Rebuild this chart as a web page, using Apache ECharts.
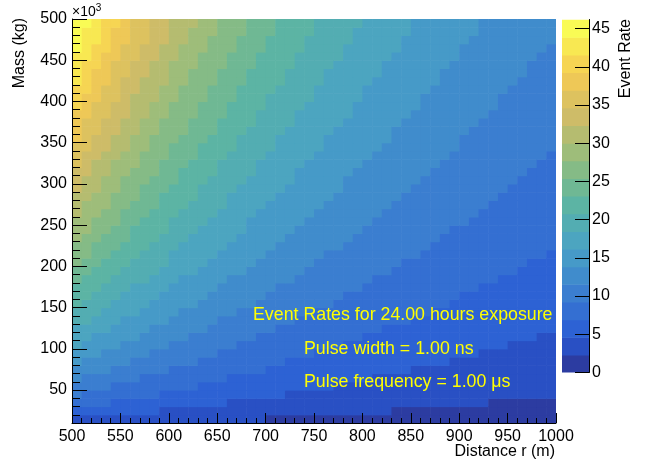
<!DOCTYPE html>
<html><head><meta charset="utf-8">
<script src="https://cdn.jsdelivr.net/npm/echarts@6/dist/echarts.min.js"></script>
<style>html,body{margin:0;padding:0;background:#fff}#c{width:657px;height:466px}</style>
</head><body><div id="c"></div>
<script>
// ---- data ----
const distanceEdges = [500,510,520,530,540,550,560,570,580,590,600,610,620,630,640,650,660,670,680,690,700,
  710,720,730,740,750,760,770,780,790,800,810,820,830,840,850,860,870,880,890,900,
  910,920,930,940,950,960,970,980,990,1000];
const massEdges = [10,20,30,40,50,60,70,80,90,100,110,120,130,140,150,160,170,180,190,200,
  210,220,230,240,250,260,270,280,290,300,310,320,330,340,350,360,370,380,390,400,
  410,420,430,440,450,460,470,480,490,500];
const zMax = 46.2;
const bandCount = 20;
// rate band per cell, one row per mass bin (bottom to top):
// [highest band in row (at r=500), run lengths of columns for that band, band-1, band-2, ...]
const rateBandRuns = [
  [1, 20,30],
  [2, 9,24,17],
  [3, 4,12,27,7],
  [4, 1,8,13,28],
  [4, 4,9,14,23],
  [5, 1,6,9,15,19],
  [5, 4,6,10,15,15],
  [6, 1,5,7,9,17,11],
  [6, 3,5,7,10,17,8],
  [7, 1,4,5,7,11,17,5],
  [7, 2,5,5,7,11,18,2],
  [7, 4,4,6,7,11,18],
  [8, 2,3,5,5,8,12,15],
  [8, 3,4,4,6,8,12,13],
  [9, 1,3,4,5,6,8,12,11],
  [9, 2,3,4,5,6,8,12,10],
  [9, 3,3,4,5,6,9,12,8],
  [10, 1,3,4,3,5,7,8,13,6],
  [10, 2,3,4,4,5,6,9,13,4],
  [11, 1,2,3,4,4,5,6,9,13,3],
  [11, 2,2,3,3,5,5,6,10,13,1],
  [11, 2,3,3,3,5,5,7,9,13],
  [12, 1,2,3,3,3,5,5,7,9,12],
  [12, 2,2,2,4,3,5,5,7,9,11],
  [12, 2,3,2,3,4,4,6,7,10,9],
  [13, 1,2,2,3,3,4,4,6,7,10,8],
  [13, 1,3,2,3,3,4,4,6,7,10,7],
  [13, 2,2,3,2,4,3,5,6,7,10,6],
  [14, 1,2,2,2,3,3,4,5,6,7,10,5],
  [14, 1,2,2,3,3,3,4,5,5,8,10,4],
  [14, 2,2,2,3,2,4,4,4,6,8,10,3],
  [15, 1,1,2,3,2,3,3,4,5,6,8,10,2],
  [15, 1,2,2,2,3,3,3,4,5,6,8,10,1],
  [15, 2,2,2,2,2,3,4,4,5,6,8,10],
  [16, 1,1,2,2,2,3,3,3,4,5,7,7,10],
  [16, 1,2,2,2,2,3,3,3,4,5,6,8,9],
  [16, 1,2,2,2,2,3,3,4,4,5,6,8,8],
  [16, 2,2,2,2,2,3,3,3,4,6,6,8,7],
  [17, 1,1,2,2,2,2,3,3,4,4,5,7,8,6],
  [17, 1,2,2,1,3,2,3,3,3,5,5,6,8,6],
  [17, 2,1,2,2,2,2,3,3,4,4,5,7,8,5],
  [18, 1,1,2,1,2,3,2,3,3,4,4,5,7,8,4],
  [18, 1,1,2,2,2,2,2,3,3,4,4,6,6,9,3],
  [18, 1,2,1,2,2,2,3,3,3,4,4,5,7,8,3],
  [18, 2,1,2,2,2,2,2,3,3,4,5,5,7,8,2],
  [19, 1,1,2,1,2,2,2,3,3,3,4,4,6,6,9,1],
  [19, 1,2,1,2,2,2,2,2,3,3,4,5,5,7,9],
  [19, 1,2,1,2,2,2,2,3,3,3,4,4,6,7,8],
  [19, 2,1,2,1,2,2,3,2,3,3,4,5,5,7,8]
];
const xTicks = [500,550,600,650,700,750,800,850,900,950,1000];
const yTicks = [50,100,150,200,250,300,350,400,450,500];
const zTicks = [0,5,10,15,20,25,30,35,40,45];
const infoLines = ['Event Rates for 24.00 hours exposure','Pulse width = 1.00 ns','Pulse frequency = 1.00 \u03bcs'];

// ---- palette (ROOT kBird, as seen through a wide-gamut screenshot) ----
const birdStops=[0,0.125,0.25,0.375,0.5,0.625,0.75,0.875,1];
const birdR=[0.2082,0.0592,0.0780,0.0232,0.1802,0.5301,0.8186,0.9956,0.9764];
const birdG=[0.1664,0.3599,0.5041,0.6419,0.7178,0.7492,0.7328,0.7862,0.9832];
const birdB=[0.5293,0.8684,0.8385,0.7914,0.6425,0.4662,0.3499,0.1968,0.0539];
const toLin=c=>c<=0.04045?c/12.92:Math.pow((c+0.055)/1.055,2.4);
const toGam=c=>{c=Math.max(0,Math.min(1,c));return c<=0.0031308?12.92*c:1.055*Math.pow(c,1/2.4)-0.055;};
function birdColor(f){
  let i=0; while(i<birdStops.length-2 && f>birdStops[i+1]) i++;
  const t=(f-birdStops[i])/(birdStops[i+1]-birdStops[i]);
  const c=a=>a[i]+t*(a[i+1]-a[i]);
  const r=toLin(c(birdR)),g=toLin(c(birdG)),b=toLin(c(birdB));
  const R=0.8225*r+0.1774*g, G=0.0332*r+0.9669*g, B=0.0171*r+0.0724*g+0.9108*b;
  const q=v=>Math.round(255*toGam(v));
  return 'rgb('+q(R)+','+q(G)+','+q(B)+')';
}
const bandColors=[];
for(let k=0;k<bandCount;k++){ bandColors.push(birdColor(Math.floor((k+0.99)*255/bandCount)/254)); }
const bw = zMax/bandCount;
function colorOf(v){ let k=Math.floor(v/bw); if(k<0)k=0; if(k>=bandCount)k=bandCount-1; return bandColors[k]; }

// ---- cells ----
const cells=[];
rateBandRuns.forEach((row,j)=>{
  const top=row[0]; let col=0;
  for(let t=1;t<row.length;t++){
    const band=top-(t-1);
    for(let n=0;n<row[t];n++){
      cells.push([distanceEdges[col],distanceEdges[col+1],massEdges[j],massEdges[j+1],(band+0.5)*bw]);
      col++;
    }
  }
});
const barData=[]; for(let k=0;k<bandCount;k++) barData.push([0,1,k*bw,(k+1)*bw,(k+0.5)*bw]);

function rectItem(params,api){
  const p0=api.coord([api.value(0),api.value(3)]);
  const p1=api.coord([api.value(1),api.value(2)]);
  return {type:'rect',shape:{x:p0[0],y:p0[1],width:p1[0]-p0[0]+0.6,height:p1[1]-p0[1]+0.6},
    style:{fill:colorOf(api.value(4))}};
}

const FONT='"Liberation Sans", Arial, Helvetica, sans-serif';
const plain=v=>String(v);
const chart=echarts.init(document.getElementById('c'),null,{renderer:'canvas'});
const black={color:'#000',width:1};
chart.setOption({
  animation:false,
  textStyle:{fontFamily:FONT},
  grid:[{left:72,top:19,width:484,height:404},{left:562,top:19.5,width:27,height:353}],
  xAxis:[
    {gridIndex:0,type:'value',min:500,max:1000,interval:50,z:10,
     axisLine:{show:true,onZero:false,lineStyle:black},
     axisTick:{show:true,inside:true,length:10,lineStyle:black},
     minorTick:{show:true,splitNumber:5,length:5,lineStyle:black},
     axisLabel:{fontSize:16,color:'#000',margin:6,fontFamily:FONT,formatter:plain,customValues:xTicks},
     splitLine:{show:false},minorSplitLine:{show:false}},
    {gridIndex:1,type:'value',min:0,max:1,show:false}
  ],
  yAxis:[
    {gridIndex:0,type:'value',min:10,max:500,position:'left',z:10,
     axisLine:{show:true,onZero:false,lineStyle:black},
     axisTick:{show:true,inside:true,length:15,lineStyle:black,customValues:yTicks},
     axisLabel:{fontSize:16,color:'#000',margin:5,fontFamily:FONT,formatter:plain,customValues:yTicks},
     splitLine:{show:false}},
    {gridIndex:0,type:'value',min:10,max:500,interval:10,position:'left',z:10,
     axisLine:{show:false},
     axisTick:{show:true,inside:true,length:8,lineStyle:black},
     axisLabel:{show:false},splitLine:{show:false}},
    {gridIndex:1,type:'value',min:0,max:zMax,position:'right',z:10,
     axisLine:{show:true,onZero:false,lineStyle:black},
     axisTick:{show:true,inside:true,length:14,lineStyle:black,customValues:zTicks},
     axisLabel:{fontSize:16,color:'#000',margin:3,fontFamily:FONT,formatter:plain,customValues:zTicks},
     splitLine:{show:false}}
  ],
  series:[
    {type:'custom',coordinateSystem:'cartesian2d',xAxisIndex:0,yAxisIndex:0,clip:true,
     renderItem:rectItem,data:cells,encode:{x:[0,1],y:[2,3]},silent:true},
    {type:'custom',coordinateSystem:'cartesian2d',xAxisIndex:1,yAxisIndex:2,clip:true,
     renderItem:rectItem,data:barData,encode:{x:[0,1],y:[2,3]},silent:true}
  ],
  graphic:[
    {type:'text',x:20,y:18,rotation:Math.PI/2,z:20,
     style:{text:'Mass (kg)',font:'16px '+FONT,fill:'#000',textAlign:'right',textVerticalAlign:'middle'}},
    {type:'text',x:626,y:19,rotation:Math.PI/2,z:20,
     style:{text:'Event Rate',font:'16px '+FONT,fill:'#000',textAlign:'right',textVerticalAlign:'middle'}},
    {type:'text',x:555,y:452,z:20,
     style:{text:'Distance r (m)',font:'16px '+FONT,fill:'#000',textAlign:'right',textVerticalAlign:'middle'}},
    {type:'text',x:72,y:12,z:20,
     style:{text:'\u00d710{s|3}',font:'14px '+FONT,fill:'#000',textAlign:'left',textVerticalAlign:'middle',
       rich:{s:{fontSize:10,fontFamily:FONT,verticalAlign:'top',padding:[0,0,8,0]}}}},
    {type:'text',x:253,y:315,z:20,
     style:{text:infoLines[0],font:'17.8px '+FONT,fill:'#ffff00',textAlign:'left',textVerticalAlign:'middle'}},
    {type:'text',x:304,y:349,z:20,
     style:{text:infoLines[1],font:'17.8px '+FONT,fill:'#ffff00',textAlign:'left',textVerticalAlign:'middle'}},
    {type:'text',x:304,y:382,z:20,
     style:{text:infoLines[2],font:'17.8px '+FONT,fill:'#ffff00',textAlign:'left',textVerticalAlign:'middle'}}
  ]
});
</script></body></html>
